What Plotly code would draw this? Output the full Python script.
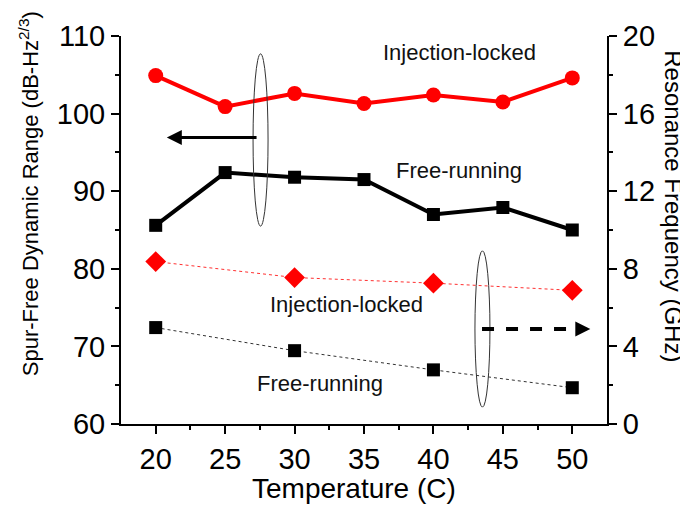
import plotly.graph_objects as go

# Data
temps = [20, 25, 30, 35, 40, 45, 50]
sfdr_locked = [104.9, 100.9, 102.6, 101.3, 102.4, 101.5, 104.6]
sfdr_free = [85.6, 92.4, 91.8, 91.5, 87.0, 87.9, 85.0]

temps_fr = [20, 30, 40, 50]
fr_locked = [8.37, 7.55, 7.26, 6.89]
fr_free = [4.97, 3.78, 2.79, 1.87]

FONT = "Arial, Liberation Sans, sans-serif"

fig = go.Figure()

# SFDR (left axis)
fig.add_trace(go.Scatter(x=temps, y=sfdr_locked, mode="lines+markers",
                         line=dict(color="#ff0000", width=4),
                         marker=dict(symbol="circle", size=15, color="#ff0000")))
fig.add_trace(go.Scatter(x=temps, y=sfdr_free, mode="lines+markers",
                         line=dict(color="black", width=4),
                         marker=dict(symbol="square", size=13, color="black")))

# Resonance frequency (right axis)
fig.add_trace(go.Scatter(x=temps_fr, y=fr_locked, mode="lines+markers", yaxis="y2",
                         line=dict(color="#ff3030", width=1, dash="dot"),
                         marker=dict(symbol="diamond", size=16, color="#ff0000")))
fig.add_trace(go.Scatter(x=temps_fr, y=fr_free, mode="lines+markers", yaxis="y2",
                         line=dict(color="#333333", width=1, dash="dot"),
                         marker=dict(symbol="square", size=13, color="black")))

tickfont = dict(family=FONT, size=29, color="black")

# the page body has an 8px margin, so the figure is 8px smaller
fig.update_layout(
    width=680, height=497,
    margin=dict(l=113, r=81, t=24, b=81),
    plot_bgcolor="white", paper_bgcolor="white",
    showlegend=False,
    font=dict(family=FONT, color="black"),
    xaxis=dict(range=[17.5, 52.5], tickvals=[20, 25, 30, 35, 40, 45, 50],
               showgrid=False, zeroline=False, showline=True, linecolor="black", linewidth=2,
               ticks="outside", ticklen=8, tickwidth=2, tickcolor="black", tickfont=tickfont,
               minor=dict(tickvals=[22.5, 27.5, 32.5, 37.5, 42.5, 47.5], ticks="outside",
                          ticklen=4, tickwidth=2, tickcolor="black")),
    yaxis=dict(range=[60, 110], tickvals=[60, 70, 80, 90, 100, 110],
               showgrid=False, zeroline=False, showline=True, linecolor="black", linewidth=2,
               ticks="outside", ticklen=8, tickwidth=2, tickcolor="black", tickfont=tickfont,
               minor=dict(tickvals=[65, 75, 85, 95, 105], ticks="outside",
                          ticklen=4, tickwidth=2, tickcolor="black")),
    yaxis2=dict(range=[0, 20], tickvals=[0, 4, 8, 12, 16, 20], overlaying="y", side="right",
                showgrid=False, zeroline=False, showline=True, linecolor="black", linewidth=2,
                ticks="outside", ticklen=8, tickwidth=2, tickcolor="black", tickfont=tickfont,
                minor=dict(tickvals=[2, 6, 10, 14, 18], ticks="outside",
                           ticklen=4, tickwidth=2, tickcolor="black")),
)

# ellipses grouping the curves
fig.add_shape(type="circle", xref="x", yref="y", x0=27.01, x1=28.09, y0=85.5, y1=107.7,
              line=dict(color="#333333", width=1))
fig.add_shape(type="circle", xref="x", yref="y", x0=42.99, x1=44.07, y0=62.17, y1=82.32,
              line=dict(color="#333333", width=1))

# dashed arrow to the right axis
fig.add_shape(type="line", xref="x", yref="y", x0=43.5, x1=50.4, y0=72.24, y1=72.24,
              line=dict(color="black", width=4, dash="dash"))
fig.add_annotation(x=51.3, y=72.24, ax=50.2, ay=72.24, xref="x", yref="y", axref="x", ayref="y",
                   text="", showarrow=True, arrowhead=2, arrowsize=1, arrowwidth=3, arrowcolor="black")
# solid arrow to the left axis
fig.add_annotation(x=20.8, y=96.93, ax=27.37, ay=96.93, xref="x", yref="y", axref="x", ayref="y",
                   text="", showarrow=True, arrowhead=2, arrowsize=1, arrowwidth=3, arrowcolor="black")

labels = [("Injection-locked", 41.88, 107.83), ("Free-running", 41.84, 92.65),
          ("Injection-locked", 33.74, 75.43), ("Free-running", 31.83, 65.23)]
for txt, lx, ly in labels:
    fig.add_annotation(x=lx, y=ly, xref="x", yref="y", text=txt, showarrow=False,
                       xanchor="center", yanchor="middle",
                       font=dict(family=FONT, size=22, color="#111111"))

# axis titles
fig.add_annotation(x=-0.19, y=0.594, xref="paper", yref="paper", textangle=-90,
                   xanchor="center", yanchor="middle",
                   text="Spur-Free Dynamic Range (dB-Hz<sup>2/3</sup>)", showarrow=False,
                   font=dict(family=FONT, size=22, color="black"))
fig.add_annotation(x=1.138, y=0.561, xref="paper", yref="paper", textangle=90,
                   xanchor="center", yanchor="middle",
                   text="Resonance Frequency (GHz)", showarrow=False,
                   font=dict(family=FONT, size=24, color="black"))
fig.add_annotation(x=0.479, y=-0.166, xref="paper", yref="paper",
                   xanchor="center", yanchor="middle",
                   text="Temperature (C)", showarrow=False,
                   font=dict(family=FONT, size=28, color="black"))

fig.write_html("out.html")
